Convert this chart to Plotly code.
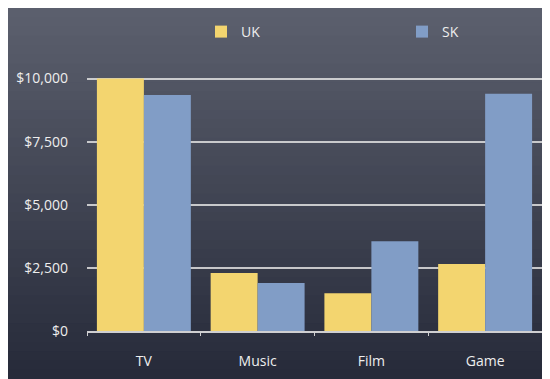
import plotly.graph_objects as go

categories = ["TV", "Music", "Film", "Game"]
uk_values = [10000, 2300, 1500, 2650]
sk_values = [9350, 1900, 3550, 9400]
series_names = ["UK", "SK"]
y_ticks = [0, 2500, 5000, 7500, 10000]

# the page body has an 8px default margin; the figure sits at (8, 8)
OFF = 8
W, H = 550 - OFF, 379 - OFF
# plot area in screen pixels: x 87..542, y 76..331
L = 87 - OFF
R = W - (542 - OFF)
T = 76 - OFF
B = H - (331 - OFF)
pw, ph = W - L - R, H - T - B

def sx(px):  # screen x pixel -> paper x
    return (px - OFF - L) / pw

def sy(py):  # screen y pixel -> paper y
    return (H - B - (py - OFF)) / ph

text_color = "#eeeeee"
font_family = "Open Sans, Noto Sans, sans-serif"

fig = go.Figure()
fig.add_trace(go.Bar(x=categories, y=uk_values, name=series_names[0],
                     marker=dict(color="#f3d56f", line=dict(width=0)),
                     legend="legend"))
fig.add_trace(go.Bar(x=categories, y=sk_values, name=series_names[1],
                     marker=dict(color="#819dc6", line=dict(width=0)),
                     legend="legend2"))

# chalkboard gradient background
top_c = (92, 96, 110)
bot_c = (38, 42, 57)
n = 40
y_top, y_bot = 8, 379
shapes = []
for i in range(n):
    a = y_top + (y_bot - y_top) * i / n
    b = y_top + (y_bot - y_top) * (i + 1) / n
    t = (i + 0.5) / n
    c = tuple(int(round(top_c[k] + (bot_c[k] - top_c[k]) * t)) for k in range(3))
    shapes.append(dict(type="rect", xref="paper", yref="paper",
                       x0=sx(0), x1=sx(560),
                       y0=sy(b + 2), y1=sy(a - (1 if i == 0 else 0)),
                       fillcolor="rgb(%d,%d,%d)" % c, line=dict(width=0),
                       layer="below"))

legend_common = dict(orientation="h", xanchor="left", yanchor="middle",
                     bgcolor="rgba(0,0,0,0)",
                     font=dict(size=14, color=text_color))

fig.update_layout(
    width=W, height=H,
    margin=dict(l=L, r=R, t=T, b=B, autoexpand=False),
    paper_bgcolor="white",
    plot_bgcolor="rgba(0,0,0,0)",
    shapes=shapes,
    barmode="group",
    bargap=0.174,
    bargroupgap=0,
    font=dict(family=font_family, size=14, color=text_color),
    showlegend=True,
    legend=dict(x=sx(201), y=sy(32), **legend_common),
    legend2=dict(x=sx(402), y=sy(32), **legend_common),
)
fig.update_xaxes(
    showline=True, linecolor="rgba(225,225,225,0.9)", linewidth=2,
    ticks="outside", tickson="boundaries", ticklen=3,
    tickcolor="rgba(225,225,225,0.9)", tickwidth=1,
    ticklabelstandoff=16,
    showgrid=False,
)
fig.update_yaxes(
    range=[0, 10100],
    tickvals=y_ticks, tickformat="$,",
    showgrid=True, gridcolor="rgba(225,225,225,0.85)", gridwidth=2,
    zeroline=False, showline=False,
    ticklabelstandoff=18,
)

fig.write_html("out.html")
